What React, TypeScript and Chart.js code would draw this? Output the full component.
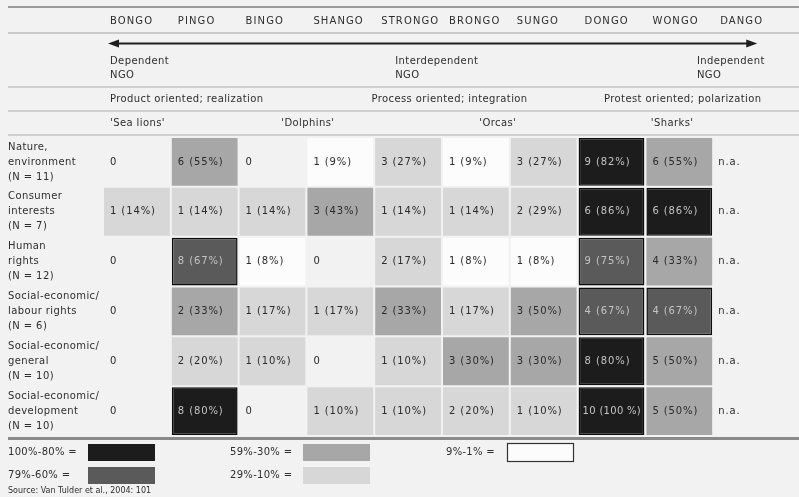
import React, { useEffect, useRef } from "react";
import { Chart, registerables } from "chart.js";
Chart.register(...registerables);

const columns = ["BONGO", "PINGO", "BINGO", "SHANGO", "STRONGO", "BRONGO", "SUNGO", "DONGO", "WONGO", "DANGO"];

const rowLabels = [
  ["Nature,", "environment", "(N = 11)"],
  ["Consumer", "interests", "(N = 7)"],
  ["Human", "rights", "(N = 12)"],
  ["Social-economic/", "labour rights", "(N = 6)"],
  ["Social-economic/", "general", "(N = 10)"],
  ["Social-economic/", "development", "(N = 10)"],
];

// counts per column (null = n.a.)
const natureCounts = [0, 6, 0, 1, 3, 1, 3, 9, 6, null];
const consumerCounts = [1, 1, 1, 3, 1, 1, 2, 6, 6, null];
const humanCounts = [0, 8, 1, 0, 2, 1, 1, 9, 4, null];
const labourCounts = [0, 2, 1, 1, 2, 1, 3, 4, 4, null];
const generalCounts = [0, 2, 1, 0, 1, 3, 3, 8, 5, null];
const developmentCounts = [0, 8, 0, 1, 1, 2, 1, 10, 5, null];

// percentages per column
const naturePct = [0, 55, 0, 9, 27, 9, 27, 82, 55, null];
const consumerPct = [14, 14, 14, 43, 14, 14, 29, 86, 86, null];
const humanPct = [0, 67, 8, 0, 17, 8, 8, 75, 33, null];
const labourPct = [0, 33, 17, 17, 33, 17, 50, 67, 67, null];
const generalPct = [0, 20, 10, 0, 10, 30, 30, 80, 50, null];
const developmentPct = [0, 80, 0, 10, 10, 20, 10, 100, 50, null];

const allCounts = [natureCounts, consumerCounts, humanCounts, labourCounts, generalCounts, developmentCounts];
const allPct = [naturePct, consumerPct, humanPct, labourPct, generalPct, developmentPct];

const legendLabels = ["100%-80% =", "79%-60% =", "59%-30% =", "29%-10% =", "9%-1% ="];
const legendMins = [80, 60, 30, 10, 1];
const shadeColors = ["#1c1c1c", "#5a5a5a", "#a7a7a7", "#d7d7d7", "#fcfcfc"];

const directionLabels = [["Dependent", "NGO"], ["Interdependent", "NGO"], ["Independent", "NGO"]];
const orientationLabels = ["Product oriented; realization", "Process oriented; integration", "Protest oriented; polarization"];
const typeLabels = ["'Sea lions'", "'Dolphins'", "'Orcas'", "'Sharks'"];
const sourceText = "Source: Van Tulder et al., 2004: 101";

function shadeIndex(p: number | null): number {
  if (p === null || p <= 0) return -1;
  for (let i = 0; i < legendMins.length; i++) if (p >= legendMins[i]) return i;
  return -1;
}

const FONT = "'DejaVu Sans', sans-serif";

const tablePlugin = {
  id: "tablePlugin",
  beforeDraw(chart: any) {
    const ctx = chart.ctx;
    ctx.save();
    ctx.fillStyle = "#f2f2f2";
    ctx.fillRect(0, 0, chart.width, chart.height);
    ctx.restore();
  },
  afterDatasetsDraw(chart: any) {
    const ctx = chart.ctx;
    const xs = chart.scales.x;
    const ys = chart.scales.y;
    const area = chart.chartArea;
    const colW = (area.right - area.left) / columns.length;
    const colLeft = (i: number) => xs.getPixelForValue(i) - colW / 2;
    const ux = (u: number) => area.left + u * colW;
    ctx.save();

    // horizontal rules
    const rule = (y: number, w: number, c: string) => {
      ctx.strokeStyle = c;
      ctx.lineWidth = w;
      ctx.beginPath();
      ctx.moveTo(8, y);
      ctx.lineTo(chart.width, y);
      ctx.stroke();
    };
    rule(7, 2, "#9a9a9a");
    rule(33, 1.5, "#bdbdbd");
    rule(87, 1.5, "#c4c4c4");
    rule(111, 1.5, "#c4c4c4");
    rule(135, 1.5, "#c4c4c4");
    rule(438.5, 3, "#8a8a8a");

    ctx.textBaseline = "middle";
    ctx.textAlign = "left";

    // column headers
    ctx.fillStyle = "#2e2e2e";
    ctx.font = `10px ${FONT}`;
    (ctx as any).letterSpacing = "1.1px";
    columns.forEach((c, i) => ctx.fillText(c, colLeft(i) + 7, 21));

    // arrow
    const ax1 = ux(0) + 5, ax2 = ux(9.65), ay = 43.5;
    ctx.strokeStyle = "#1e1e1e";
    ctx.fillStyle = "#1e1e1e";
    ctx.lineWidth = 2;
    ctx.beginPath();
    ctx.moveTo(ax1 + 6, ay);
    ctx.lineTo(ax2 - 6, ay);
    ctx.stroke();
    ctx.beginPath();
    ctx.moveTo(ax1, ay);
    ctx.lineTo(ax1 + 11, ay - 4);
    ctx.lineTo(ax1 + 11, ay + 4);
    ctx.closePath();
    ctx.fill();
    ctx.beginPath();
    ctx.moveTo(ax2, ay);
    ctx.lineTo(ax2 - 11, ay - 4);
    ctx.lineTo(ax2 - 11, ay + 4);
    ctx.closePath();
    ctx.fill();

    (ctx as any).letterSpacing = "0.4px";
    ctx.fillStyle = "#2e2e2e";
    ctx.font = `10px ${FONT}`;
    const dirX = [ux(0) + 7, ux(4.31), ux(8.76)];
    directionLabels.forEach((l, i) => {
      ctx.fillText(l[0], dirX[i], 61);
      ctx.fillText(l[1], dirX[i], 75);
    });
    const oriX = [ux(0) + 7, ux(3.96), ux(7.39)];
    orientationLabels.forEach((l, i) => ctx.fillText(l, oriX[i], 99));
    const typeX = [ux(0) + 7, ux(2.63), ux(5.55), ux(8.08)];
    typeLabels.forEach((l, i) => ctx.fillText(l, typeX[i], 123));

    // row labels
    rowLabels.forEach((lines, r) => {
      const cy = ys.getPixelForValue(r + 0.5);
      lines.forEach((t, k) => ctx.fillText(t, 8, cy + (k - 1) * 15));
    });

    // cell texts
    (ctx as any).letterSpacing = "0.9px";
    allCounts.forEach((counts, r) => {
      const cy = ys.getPixelForValue(r + 0.5);
      counts.forEach((c, i) => {
        const p = allPct[r][i];
        let txt: string;
        if (c === null) txt = "n.a.";
        else if (c === 0) txt = "0";
        else txt = `${c} (${p === 100 ? "100 %" : p + "%"})`;
        const si = shadeIndex(p);
        ctx.fillStyle = si === 0 || si === 1 ? "#c4c4c4" : "#2a2a2a";
        const long = txt.length > 9;
        if (long) (ctx as any).letterSpacing = "0.3px";
        ctx.fillText(txt, colLeft(i) + (c === null ? 5 : long ? 5 : 7), cy);
        if (long) (ctx as any).letterSpacing = "0.9px";
      });
    });

    // legend
    (ctx as any).letterSpacing = "0.3px";
    ctx.font = `10px ${FONT}`;
    const legPos = [
      [8, 452, 88], [8, 475, 88], [230, 452, 303], [230, 475, 303], [446, 452, 507],
    ];
    legendLabels.forEach((l, i) => {
      const [tx, ty, bx] = legPos[i];
      ctx.fillStyle = "#2e2e2e";
      ctx.fillText(l, tx, ty);
      ctx.fillStyle = shadeColors[i];
      ctx.fillRect(bx, ty - 8, 67, 17);
      if (i === 4) {
        ctx.strokeStyle = "#333";
        ctx.lineWidth = 1.2;
        ctx.strokeRect(bx + 0.5, ty - 8.5, 66, 18);
      }
    });
    (ctx as any).letterSpacing = "0px";
    ctx.fillStyle = "#2e2e2e";
    ctx.font = `8px ${FONT}`;
    ctx.fillText(sourceText, 8, 491);
    ctx.restore();
  },
};

export default function App() {
  const ref = useRef<HTMLCanvasElement>(null);
  useEffect(() => {
    document.body.style.margin = "0";
    if (!ref.current) return;
    const datasets = allCounts.map((counts, r) => {
      const pct = allPct[r];
      return {
        label: rowLabels[r].join(" "),
        data: counts.map((c) => (c !== null && c > 0 ? [r + 0.02, r + 0.98] : null)),
        backgroundColor: pct.map((p) => {
          const si = shadeIndex(p);
          return si < 0 ? "rgba(0,0,0,0)" : shadeColors[si];
        }),
        borderColor: pct.map((p) => {
          const si = shadeIndex(p);
          return si === 0 || si === 1 ? "#0c0c0c" : "rgba(0,0,0,0)";
        }),
        borderWidth: pct.map((p) => {
          const si = shadeIndex(p);
          return si === 0 || si === 1 ? 1.5 : 0;
        }),
        borderSkipped: false,
        grouped: false,
        categoryPercentage: 1,
        barPercentage: 0.97,
      };
    });
    const chart = new Chart(ref.current, {
      type: "bar",
      data: { labels: columns, datasets: datasets as any },
      options: {
        responsive: false,
        animation: false,
        layout: { padding: { left: 103, right: 18, top: 137, bottom: 61 } },
        scales: {
          x: { type: "category", display: false, offset: true },
          y: { type: "linear", min: 0, max: 6, reverse: true, display: false },
        },
        plugins: { legend: { display: false }, tooltip: { enabled: false } },
      },
      plugins: [tablePlugin],
    });
    return () => chart.destroy();
  }, []);
  return <canvas ref={ref} width={799} height={497} style={{ display: "block" }} />;
}
